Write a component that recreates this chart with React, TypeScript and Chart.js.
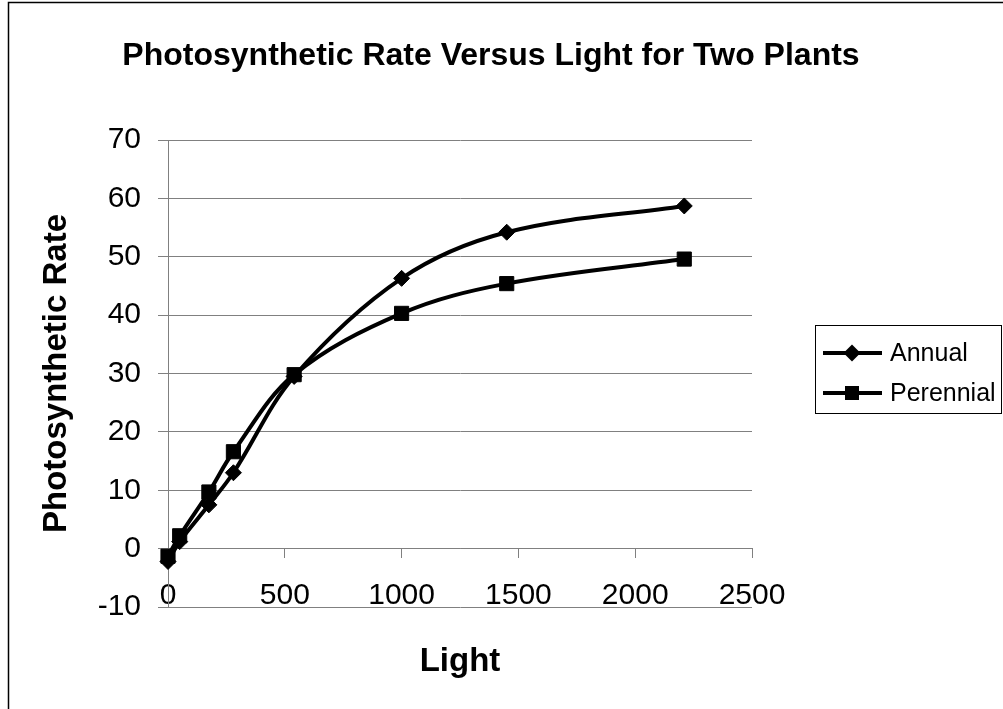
import React, { useEffect, useRef } from 'react';
import { Chart, registerables } from 'chart.js';

Chart.register(...registerables);

// ---- data ----
const lightLevels = [0, 50, 175, 280, 540, 1000, 1450, 2210];
const annualRates = [-2.2, 1.2, 7.5, 13.0, 29.5, 46.3, 54.2, 58.7];
const perennialRates = [-1.3, 2.2, 9.7, 16.6, 29.8, 40.3, 45.4, 49.6];
const seriesNames = ['Annual', 'Perennial'];
const seriesMarkers = ['rectRot', 'rect'];
const chartTitle = 'Photosynthetic Rate Versus Light for Two Plants';
const xAxisTitle = 'Light';
const yAxisTitle = 'Photosynthetic Rate';
const xMin = 0, xMax = 2500, xStep = 500;
const yMin = -10, yMax = 70, yStep = 10;

const FONT = '"Liberation Sans", Arial, Helvetica, sans-serif';

const decorPlugin = {
  id: 'decor',
  afterDraw(chart: any) {
    const ctx = chart.ctx as CanvasRenderingContext2D;
    const area = chart.chartArea;
    ctx.save();
    // outer chart border (extends past the visible window)
    ctx.strokeStyle = '#000';
    ctx.lineWidth = 1.5;
    ctx.strokeRect(8.5, 2.5, 1100, 800);

    // title
    ctx.fillStyle = '#000';
    ctx.textAlign = 'center';
    ctx.textBaseline = 'middle';
    ctx.font = `bold 32px ${FONT}`;
    ctx.fillText(chartTitle, 491, 56);

    // x axis title
    ctx.font = `bold 33px ${FONT}`;
    ctx.fillText(xAxisTitle, (area.left + area.right) / 2, 662);

    // y axis title
    ctx.save();
    ctx.translate(57, (area.top + area.bottom) / 2);
    ctx.rotate(-Math.PI / 2);
    ctx.fillText(yAxisTitle, 0, 0);
    ctx.restore();

    // legend
    ctx.lineWidth = 1;
    ctx.strokeStyle = '#000';
    ctx.strokeRect(815.5, 325.5, 186, 88);
    ctx.font = `25px ${FONT}`;
    ctx.textAlign = 'left';
    seriesNames.forEach((name, i) => {
      const y = 353 + i * 40;
      ctx.strokeStyle = '#000';
      ctx.lineWidth = 4;
      ctx.beginPath();
      ctx.moveTo(823, y);
      ctx.lineTo(882, y);
      ctx.stroke();
      ctx.fillStyle = '#000';
      ctx.beginPath();
      if (seriesMarkers[i] === 'rectRot') {
        const r = 8.5;
        ctx.moveTo(852 - r, y);
        ctx.lineTo(852, y - r);
        ctx.lineTo(852 + r, y);
        ctx.lineTo(852, y + r);
        ctx.closePath();
      } else {
        ctx.rect(852 - 7, y - 7, 14, 14);
      }
      ctx.fill();
      ctx.fillText(name, 890, y + 1);
    });
    ctx.restore();
  },
};

export default function App() {
  const canvasRef = useRef<HTMLCanvasElement | null>(null);

  useEffect(() => {
    const canvas = canvasRef.current;
    if (!canvas) return;
    const makePoints = (vals: number[]) => lightLevels.map((x, i) => ({ x, y: vals[i] }));
    const chart = new Chart(canvas, {
      type: 'line',
      data: {
        datasets: [
          {
            label: seriesNames[0],
            data: makePoints(annualRates),
            borderColor: '#000',
            backgroundColor: '#000',
            borderWidth: 4,
            pointStyle: 'rectRot',
            pointRadius: 8,
            pointBorderWidth: 1,
            pointBackgroundColor: '#000',
            pointBorderColor: '#000',
            tension: 0.35,
            clip: false as any,
          },
          {
            label: seriesNames[1],
            data: makePoints(perennialRates),
            borderColor: '#000',
            backgroundColor: '#000',
            borderWidth: 4,
            pointStyle: 'rect',
            pointRadius: 10,
            pointBorderWidth: 1,
            pointBackgroundColor: '#000',
            pointBorderColor: '#000',
            tension: 0.35,
            clip: false as any,
          },
        ],
      },
      options: {
        animation: false,
        responsive: false,
        devicePixelRatio: 1,
        layout: { padding: { left: 0, top: 140, right: 251, bottom: 102 } },
        plugins: {
          legend: { display: false },
          title: { display: false },
          tooltip: { enabled: false },
        },
        scales: {
          x: {
            type: 'linear',
            position: { y: 0 } as any,
            min: xMin,
            max: xMax,
            ticks: {
              stepSize: xStep,
              color: '#000',
              font: { family: FONT, size: 30 },
              padding: 20,
              maxRotation: 0,
              callback: (v: any) => String(v),
            },
            grid: {
              drawOnChartArea: false,
              drawTicks: true,
              tickLength: 9,
              color: '#808080',
              lineWidth: 1,
            },
            border: { display: true, color: '#808080', width: 1 },
          },
          y: {
            type: 'linear',
            position: 'left',
            min: yMin,
            max: yMax,
            afterFit: (s: any) => {
              s.width = 168;
            },
            ticks: {
              stepSize: yStep,
              color: '#000',
              font: { family: FONT, size: 30 },
              padding: 17,
              callback: (v: any) => String(v),
            },
            grid: {
              color: '#808080',
              lineWidth: 1,
              tickLength: 10,
            },
            border: { display: true, color: '#808080', width: 1 },
          },
        },
      },
      plugins: [decorPlugin],
    });
    return () => chart.destroy();
  }, []);

  return (
    <div style={{ position: 'fixed', left: 0, top: 0, width: 1003, height: 709, background: '#fff' }}>
      <canvas ref={canvasRef} width={1003} height={709} style={{ display: 'block' }} />
    </div>
  );
}
